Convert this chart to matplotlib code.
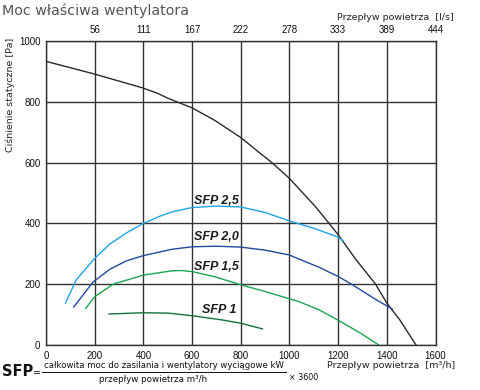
import matplotlib
matplotlib.use("Agg")
import matplotlib.pyplot as plt

# ---- data ----
x_ticks = [0, 200, 400, 600, 800, 1000, 1200, 1400, 1600]
y_ticks = [0, 200, 400, 600, 800, 1000]
top_tick_labels = ["56", "111", "167", "222", "278", "333", "389", "444"]

fan_x = [0, 196, 396, 458, 500, 600, 693, 801, 873, 928, 1000, 1038, 1108, 1163, 1201, 1274, 1353, 1400, 1453, 1520]
fan_y = [933, 892, 846, 828, 812, 780, 739, 682, 635, 600, 548, 515, 454, 400, 362, 280, 201, 138, 83, 0]

sfp25_x = [80, 124, 200, 262, 331, 400, 469, 518, 600, 700, 800, 900, 1000, 1100, 1200, 1222]
sfp25_y = [138, 214, 285, 332, 369, 400, 424, 438, 452, 457, 454, 436, 408, 384, 355, 342]

sfp20_x = [114, 193, 262, 331, 400, 518, 600, 700, 800, 900, 1000, 1038, 1121, 1201, 1259, 1356, 1423]
sfp20_y = [125, 207, 249, 277, 294, 315, 323, 325, 322, 312, 296, 283, 256, 225, 198, 149, 118]

sfp15_x = [163, 200, 276, 400, 518, 560, 604, 700, 800, 900, 1000, 1038, 1121, 1201, 1290, 1367]
sfp15_y = [120, 159, 200, 230, 244, 245, 241, 223, 198, 176, 152, 143, 116, 81, 40, 0]

sfp10_x = [259, 396, 500, 603, 719, 798, 889]
sfp10_y = [102, 106, 105, 96, 83, 72, 53]

labels = ["SFP 2,5", "SFP 2,0", "SFP 1,5", "SFP 1"]
label_x = [700, 700, 700, 710]
label_y = [475, 355, 257, 116]

W, H = 480, 390
fig = plt.figure(figsize=(4.8, 3.9), dpi=100)
ax = fig.add_axes([46 / W, 1 - 345 / H, (435.5 - 46) / W, (345 - 41) / H])

ax.plot(fan_x, fan_y, color="#2a2a2a", lw=1.0, zorder=3)
ax.plot(sfp25_x, sfp25_y, color="#1ea3e6", lw=1.0, zorder=3)
ax.plot(sfp20_x, sfp20_y, color="#1f4a9e", lw=1.0, zorder=3)
ax.plot(sfp15_x, sfp15_y, color="#1aa650", lw=1.0, zorder=3)
ax.plot(sfp10_x, sfp10_y, color="#16703f", lw=1.0, zorder=3)

for t, lx, ly in zip(labels, label_x, label_y):
    ax.text(lx, ly, t, ha="center", va="center", fontsize=9, fontweight="bold",
            fontstyle="italic", family="Liberation Sans", color="#1a1a1a", zorder=4)

ax.set_xlim(0, 1600)
ax.set_ylim(0, 1000)
ax.set_xticks(x_ticks)
ax.set_yticks(y_ticks)
ax.grid(True, color="#333333", lw=1.0, zorder=1)
for s in ax.spines.values():
    s.set_color("#333333")
    s.set_linewidth(1.0)
ax.tick_params(length=0, labelsize=7, pad=4, labelcolor="#111111")
for lab in ax.get_xticklabels() + ax.get_yticklabels():
    lab.set_family("Liberation Sans")

ax2 = ax.twiny()
ax2.set_xlim(0, 1600)
ax2.set_xticks(x_ticks[1:])
ax2.set_xticklabels(top_tick_labels)
ax2.tick_params(length=0, labelsize=7, pad=4, labelcolor="#111111")
for lab in ax2.get_xticklabels():
    lab.set_family("Liberation Sans")
for s in ax2.spines.values():
    s.set_visible(False)

def fx(px):
    return px / W

def fy(py):
    return 1 - py / H

fig.text(fx(2), fy(11), "Moc właściwa wentylatora", fontsize=10.3, color="#555555",
         family="DejaVu Sans", ha="left", va="center")
fig.text(fx(454), fy(17), "Przepływ powietrza  [l/s]", fontsize=6.8, color="#222222",
         family="DejaVu Sans", ha="right", va="center")
fig.text(fx(455), fy(366), "Przepływ powietrza  [m³/h]", fontsize=6.8, color="#222222",
         family="DejaVu Sans", ha="right", va="center")
fig.text(fx(10), fy(38), "Ciśnienie statyczne [Pa]", fontsize=6.8, color="#222222",
         family="DejaVu Sans", ha="center", va="top", rotation=90)

# formula
fig.text(fx(2), fy(371), "SFP", fontsize=10.5, fontweight="bold", color="#111111",
         family="DejaVu Sans", ha="left", va="center")
fig.text(fx(33), fy(373), "=", fontsize=7, color="#111111",
         family="DejaVu Sans", ha="left", va="center")
fig.text(fx(164), fy(366), "całkowita moc do zasilania i wentylatory wyciągowe kW",
         fontsize=6.1, color="#111111", family="DejaVu Sans", ha="center", va="center")
fig.add_artist(plt.Line2D([fx(42), fx(286)], [fy(372), fy(372)], color="#111111", lw=0.7))
fig.text(fx(153), fy(379), "przepływ powietrza m³/h",
         fontsize=6.3, color="#111111", family="DejaVu Sans", ha="center", va="center")
fig.text(fx(289), fy(377), "× 3600", fontsize=5.8, color="#111111",
         family="DejaVu Sans", ha="left", va="center")

fig.savefig("out.png", dpi=100)
